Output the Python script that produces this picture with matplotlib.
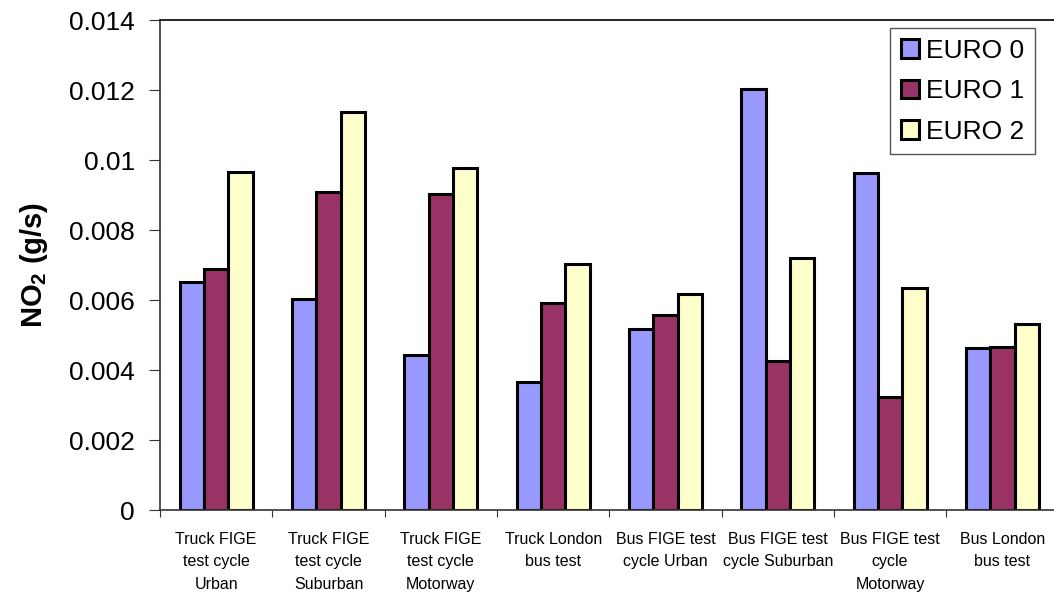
import numpy as np
import matplotlib
matplotlib.use('Agg')
import matplotlib.pyplot as plt

categories = ['Truck FIGE\ntest cycle\nUrban', 'Truck FIGE\ntest cycle\nSuburban',
              'Truck FIGE\ntest cycle\nMotorway', 'Truck London\nbus test',
              'Bus FIGE test\ncycle Urban', 'Bus FIGE test\ncycle Suburban',
              'Bus FIGE test\ncycle\nMotorway', 'Bus London\nbus test']
series_names = ['EURO 0', 'EURO 1', 'EURO 2']
euro0 = [0.00652, 0.00603, 0.00443, 0.00367, 0.00516, 0.01202, 0.00962, 0.00462]
euro1 = [0.00690, 0.00908, 0.00902, 0.00592, 0.00557, 0.00426, 0.00322, 0.00467]
euro2 = [0.00967, 0.01138, 0.00976, 0.00703, 0.00616, 0.00721, 0.00633, 0.00531]
colors = ['#9999FF', '#993366', '#FFFFCC']

plt.rcParams['font.family'] = ['Liberation Sans', 'DejaVu Sans']
plt.rcParams['mathtext.fontset'] = 'custom'
plt.rcParams['mathtext.rm'] = 'Liberation Sans:bold'
plt.rcParams['mathtext.bf'] = 'Liberation Sans:bold'

fig = plt.figure(figsize=(10.54, 5.94), dpi=100)
ax = fig.add_axes([160 / 1054, 1 - 510 / 594, 898.6 / 1054, 490 / 594])

x = np.arange(len(categories))
w = 0.217
for i, (vals, name) in enumerate(zip([euro0, euro1, euro2], series_names)):
    ax.bar(x + (i - 1) * w, vals, w, color=colors[i], edgecolor='black',
           linewidth=2.2, label=name, zorder=2)

ax.set_xlim(-0.5, len(categories) - 0.5)
ax.set_ylim(0, 0.014)
ax.set_yticks(np.arange(0, 0.0141, 0.002))
ax.set_yticklabels(['0', '0.002', '0.004', '0.006', '0.008', '0.01', '0.012', '0.014'])
ax.tick_params(axis='y', labelsize=19, length=8, pad=10, color='#333333')

# group boundaries get the ticks, group centres get the labels
ax.set_xticks(np.arange(-0.5, len(categories), 1.0))
ax.set_xticklabels([])
ax.set_xticks(x, minor=True)
ax.set_xticklabels(categories, minor=True, fontsize=11.5, linespacing=1.6)
ax.tick_params(axis='x', which='major', length=5, color='#333333')
ax.tick_params(axis='x', which='minor', length=0, pad=16)

for s in ['left', 'bottom']:
    ax.spines[s].set_color('#333333')
    ax.spines[s].set_linewidth(1.2)
ax.spines['top'].set_color('black')
ax.spines['top'].set_linewidth(1.2)
ax.spines['right'].set_visible(False)

ax.set_ylabel(r'NO$_{\mathbf{2}}$ (g/s)', fontsize=21, fontweight='bold', labelpad=14)

leg = ax.legend(loc='upper right', bbox_to_anchor=(1034.7 / 1054, 1 - 28.3 / 594),
                bbox_transform=fig.transFigure, borderaxespad=0, fontsize=19,
                fancybox=False, framealpha=1, edgecolor='#555555',
                handlelength=0.7, handleheight=0.7, handletextpad=0.25,
                labelspacing=0.62, borderpad=0.4)
leg.get_frame().set_linewidth(1.0)

fig.savefig('out.png', dpi=100)
